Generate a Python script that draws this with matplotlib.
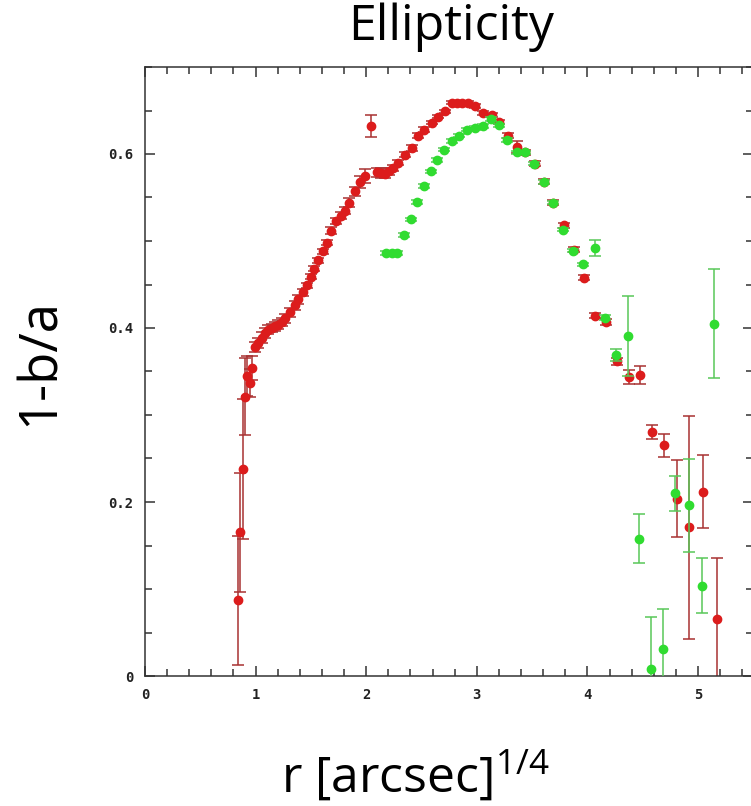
"""
Ellipticity profile: 1-b/a against r^(1/4), two isophote fits (red / green).
"""

import matplotlib
matplotlib.use("Agg")
import matplotlib.pyplot as plt
from matplotlib.ticker import MultipleLocator

plt.rcParams['font.family'] = ['Open Sans', 'DejaVu Sans']
plt.rcParams['mathtext.fontset'] = 'custom'
plt.rcParams['mathtext.rm'] = 'Open Sans'

# ==================== data ====================
red_r = [0.845, 0.860, 0.883, 0.904, 0.925, 0.949, 0.967, 0.995, 1.025, 1.055,
         1.085, 1.115, 1.145, 1.175, 1.205, 1.235, 1.266, 1.310, 1.356, 1.386,
         1.426, 1.462, 1.498, 1.528, 1.567, 1.607, 1.643, 1.682, 1.724, 1.769,
         1.808, 1.847, 1.899, 1.944, 1.989, 2.040, 2.095, 2.131, 2.170, 2.209,
         2.245, 2.290, 2.350, 2.410, 2.470, 2.525, 2.592, 2.652, 2.712, 2.773,
         2.818, 2.863, 2.918, 2.984, 3.059, 3.135, 3.204, 3.285, 3.366, 3.436,
         3.526, 3.608, 3.692, 3.788, 3.879, 3.972, 4.069, 4.168, 4.265, 4.373,
         4.476, 4.587, 4.693, 4.807, 4.921, 5.048, 5.169]
red_e = [0.087, 0.165, 0.238, 0.321, 0.345, 0.337, 0.354, 0.378, 0.383, 0.389,
         0.394, 0.398, 0.400, 0.402, 0.404, 0.407, 0.411, 0.418, 0.426, 0.433,
         0.441, 0.449, 0.459, 0.468, 0.478, 0.488, 0.498, 0.512, 0.523, 0.529,
         0.535, 0.544, 0.557, 0.568, 0.575, 0.632, 0.579, 0.578, 0.577, 0.580,
         0.584, 0.590, 0.599, 0.607, 0.621, 0.628, 0.636, 0.643, 0.649, 0.659,
         0.659, 0.659, 0.659, 0.655, 0.647, 0.645, 0.637, 0.621, 0.608, 0.602,
         0.589, 0.568, 0.544, 0.518, 0.490, 0.458, 0.414, 0.407, 0.362, 0.344,
         0.346, 0.280, 0.265, 0.204, 0.171, 0.212, 0.066]
red_err = [0.074, 0.068, 0.080, 0.044, 0.023, 0.016, 0.014, 0.006, 0.006, 0.006,
           0.006, 0.005, 0.005, 0.005, 0.005, 0.005, 0.005, 0.005, 0.005, 0.005,
           0.004, 0.003, 0.003, 0.003, 0.003, 0.003, 0.003, 0.004, 0.004, 0.004,
           0.004, 0.005, 0.005, 0.007, 0.008, 0.013, 0.005, 0.006, 0.005, 0.004,
           0.003, 0.003, 0.003, 0.003, 0.003, 0.003, 0.002, 0.002, 0.002, 0.002,
           0.002, 0.002, 0.002, 0.002, 0.002, 0.002, 0.002, 0.003, 0.007, 0.003,
           0.003, 0.003, 0.003, 0.003, 0.003, 0.003, 0.003, 0.003, 0.004, 0.008,
           0.010, 0.008, 0.013, 0.044, 0.128, 0.042, 0.070]

green_r = [2.180, 2.230, 2.280, 2.345, 2.405, 2.456, 2.523, 2.583, 2.643, 2.703,
           2.773, 2.842, 2.908, 2.984, 3.053, 3.125, 3.198, 3.276, 3.360, 3.440,
           3.520, 3.608, 3.692, 3.776, 3.873, 3.957, 4.066, 4.156, 4.258, 4.364,
           4.464, 4.572, 4.686, 4.795, 4.916, 5.033, 5.147]
green_e = [0.486, 0.486, 0.486, 0.507, 0.525, 0.545, 0.563, 0.580, 0.593, 0.605,
           0.615, 0.621, 0.628, 0.630, 0.632, 0.640, 0.633, 0.616, 0.602, 0.602,
           0.589, 0.568, 0.544, 0.513, 0.489, 0.473, 0.492, 0.412, 0.369, 0.391,
           0.158, 0.008, 0.031, 0.210, 0.196, 0.104, 0.405]
green_err = [0.002, 0.002, 0.002, 0.002, 0.002, 0.002, 0.002, 0.002, 0.002, 0.002,
             0.002, 0.002, 0.002, 0.002, 0.002, 0.002, 0.002, 0.002, 0.002, 0.002,
             0.002, 0.002, 0.002, 0.002, 0.002, 0.002, 0.009, 0.003, 0.007, 0.046,
             0.028, 0.060, 0.046, 0.020, 0.054, 0.032, 0.063]

RED = '#dc1c1c'
RED_BAR = '#a83232'
GREEN = '#30dc30'
GREEN_BAR = '#58c858'

# ==================== plot ====================
fig = plt.figure(figsize=(7.51, 8.06), dpi=100)
ax = fig.add_axes([145 / 751, 130 / 806, 608.3 / 751, 609 / 806])

ax.errorbar(red_r, red_e, yerr=red_err, fmt='o', ms=6, color=RED,
            ecolor=RED_BAR, elinewidth=1.1, capsize=4.5, capthick=1.1, zorder=2)
ax.errorbar(green_r, green_e, yerr=green_err, fmt='o', ms=6, color=GREEN,
            ecolor=GREEN_BAR, elinewidth=1.1, capsize=4.5, capthick=1.1, zorder=3)

ax.set_xlim(0, 5.5)
ax.set_ylim(0, 0.7)
ax.xaxis.set_major_locator(MultipleLocator(1))
ax.xaxis.set_minor_locator(MultipleLocator(0.2))
ax.yaxis.set_major_locator(MultipleLocator(0.2))
ax.yaxis.set_minor_locator(MultipleLocator(0.05))
ax.xaxis.set_major_formatter(plt.FuncFormatter(lambda v, p: f'{v:g}'))
ax.yaxis.set_major_formatter(plt.FuncFormatter(lambda v, p: f'{v:g}'))

ax.tick_params(which='both', direction='in', top=True, right=True,
               colors='#333333', width=1.1, pad=8.5)
ax.tick_params(which='major', length=7.5)
ax.tick_params(which='minor', length=5)
for lab in ax.get_xticklabels() + ax.get_yticklabels():
    lab.set_family('DejaVu Sans Mono')
    lab.set_weight('bold')
    lab.set_fontsize(10)
    lab.set_color('#222222')
for sp in ax.spines.values():
    sp.set_linewidth(1.1)
    sp.set_color('#333333')

fig.text(451 / 751, 1 - 40 / 806, 'Ellipticity', fontsize=36,
         ha='center', va='baseline')
fig.text(40 / 751, 1 - 362 / 806, '1-b/a', fontsize=38, rotation=90,
         ha='center', va='center')
fig.text(415 / 751, 1 - 793 / 806, r'r [arcsec]$^{\mathregular{1/4}}$',
         fontsize=36, ha='center', va='baseline')

fig.savefig('out.png', dpi=100)
